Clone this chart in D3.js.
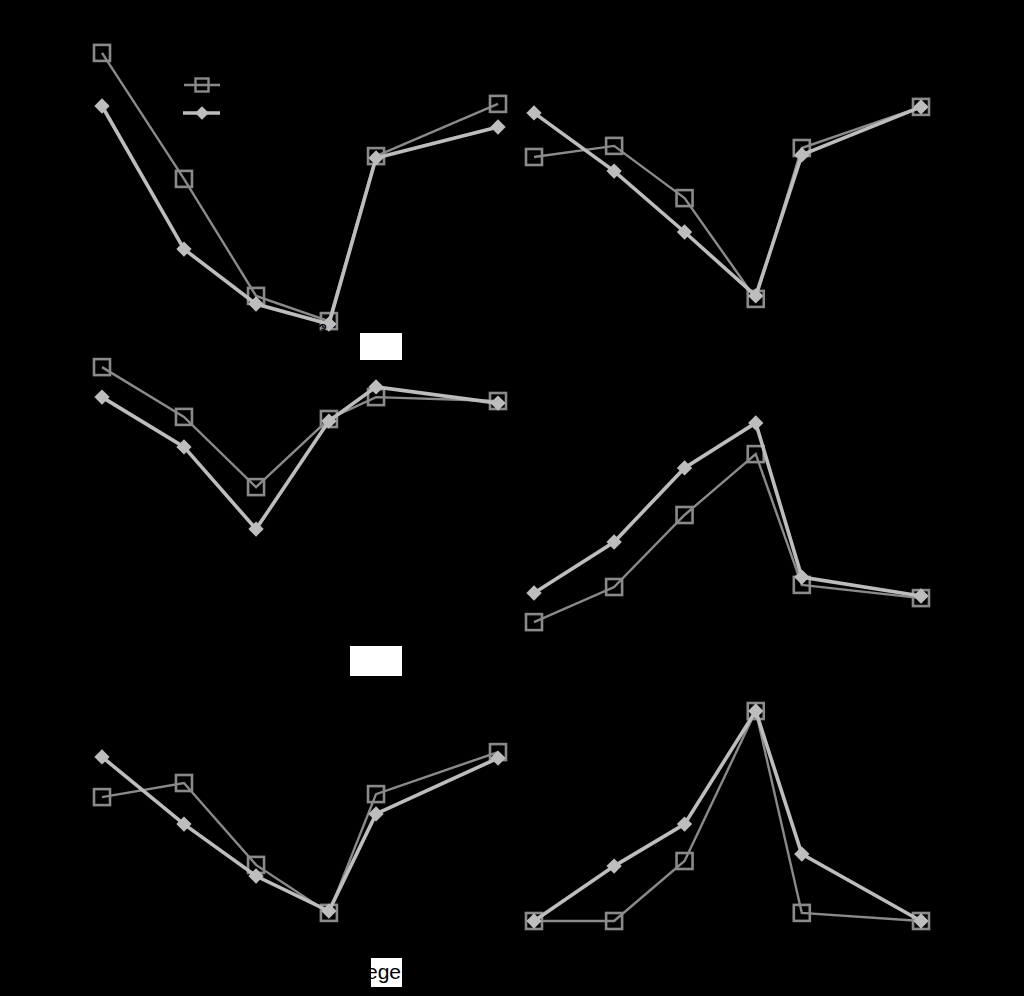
<!DOCTYPE html>
<html><head><meta charset="utf-8">
<script src="https://cdn.jsdelivr.net/npm/d3@7"></script>
<style>html,body{margin:0;padding:0;background:#000;}svg{display:block;}</style>
</head><body>
<svg id="c" width="1024" height="996"></svg>
<script>
// x positions (numeric categories) shared by all panels
const xValues = [0, 20.7, 38.9, 57.3, 69.2, 100];
const seriesNames = ["Series A", "Series B"];
const panelTitles = ["Panel 1", "Panel 2", "Panel 3", "Panel 4", "Panel 5", "Panel 6"];
// values (0-100 scale per panel)
const seriesA = [
  [95.7, 53.7, 14.7, 6.3, 61.3, 78.7],
  [61.0, 64.7, 47.3, 13.7, 64.0, 77.7],
  [94.3, 77.7, 54.3, 77.0, 84.3, 83.0],
  [9.3, 21.0, 45.0, 65.3, 21.7, 17.3],
  [54.3, 59.0, 31.7, 15.7, 55.3, 69.3],
  [13.0, 13.0, 33.0, 83.0, 15.7, 13.0]
];
const seriesB = [
  [78.0, 30.3, 12.0, 5.3, 60.7, 71.0],
  [75.7, 56.3, 36.0, 14.7, 61.7, 77.7],
  [84.3, 67.7, 40.3, 76.3, 87.7, 82.3],
  [19.0, 36.0, 60.7, 75.7, 24.3, 18.0],
  [67.7, 45.3, 28.0, 16.3, 48.7, 67.3],
  [13.0, 31.3, 45.3, 83.0, 35.3, 13.0]
];
const boxLabels = ["", "", "College"];

const svg = d3.select("#c");
svg.append("rect").attr("width",1024).attr("height",996).attr("fill","#000");

const colX = [[102, 498], [534, 921]];
const rowY = [[340, 40], [650, 350], [960, 660]];
const colA = "#8a8a8a", colB = "#bdbdbd";

for (let p = 0; p < 6; p++) {
  const r = Math.floor(p / 2), c = p % 2;
  const x = d3.scaleLinear().domain([0, 100]).range(colX[c]);
  const y = d3.scaleLinear().domain([0, 100]).range(rowY[r]);
  const g = svg.append("g");
  const line = d3.line().x((d, i) => x(xValues[i])).y(d => y(d));
  // series A: thin darker line, open squares
  g.append("path").datum(seriesA[p]).attr("d", line)
    .attr("fill", "none").attr("stroke", colA).attr("stroke-width", 2.4);
  g.selectAll(".sq").data(seriesA[p]).join("rect")
    .attr("x", (d, i) => x(xValues[i]) - 8).attr("y", d => y(d) - 8)
    .attr("width", 16).attr("height", 16)
    .attr("fill", "none").attr("stroke", colA).attr("stroke-width", 2.6);
  // series B: thick lighter line, filled diamonds
  g.append("path").datum(seriesB[p]).attr("d", line)
    .attr("fill", "none").attr("stroke", colB).attr("stroke-width", 3.6);
  g.selectAll(".dm").data(seriesB[p]).join("path")
    .attr("d", d3.symbol().type(d3.symbolDiamond2).size(150))
    .attr("transform", (d, i) => `translate(${x(xValues[i])},${y(d)})`)
    .attr("fill", colB);
  g.append("text").attr("x", (colX[c][0] + colX[c][1]) / 2).attr("y", rowY[r][1] - 14)
    .attr("text-anchor", "middle").attr("fill", "#000")
    .attr("font-family", "Arial, Liberation Sans, sans-serif").attr("font-size", 16)
    .text(panelTitles[p]);
}

// white label boxes (left column)
const boxes = [[360, 333, 42, 27], [350, 646, 52, 30], [371, 958, 31, 29]];
boxes.forEach((b, i) => {
  svg.append("rect").attr("x", b[0]).attr("y", b[1]).attr("width", b[2]).attr("height", b[3]).attr("fill", "#fff");
  if (boxLabels[i]) {
    svg.append("text").attr("x", 401).attr("y", 979).attr("text-anchor", "end")
      .attr("fill", "#000").attr("font-family", "Arial, Liberation Sans, sans-serif")
      .attr("font-size", 21).text(boxLabels[i]);
  }
});

// legend
const lg = svg.append("g");
lg.append("line").attr("x1", 184).attr("x2", 220).attr("y1", 85).attr("y2", 85).attr("stroke", colA).attr("stroke-width", 2.4);
lg.append("rect").attr("x", 195.5).attr("y", 78.5).attr("width", 13).attr("height", 13).attr("fill", "none").attr("stroke", colA).attr("stroke-width", 2.4);
lg.append("line").attr("x1", 183).attr("x2", 220).attr("y1", 113).attr("y2", 113).attr("stroke", colB).attr("stroke-width", 3.6);
lg.append("path").attr("d", d3.symbol().type(d3.symbolDiamond2).size(120)).attr("transform", "translate(202,113)").attr("fill", colB);
seriesNames.forEach((n, i) => {
  lg.append("text").attr("x", 228).attr("y", 90 + i * 28).attr("fill", "#000")
    .attr("font-family", "Arial, Liberation Sans, sans-serif").attr("font-size", 15).text(n);
});
</script>
</body></html>
